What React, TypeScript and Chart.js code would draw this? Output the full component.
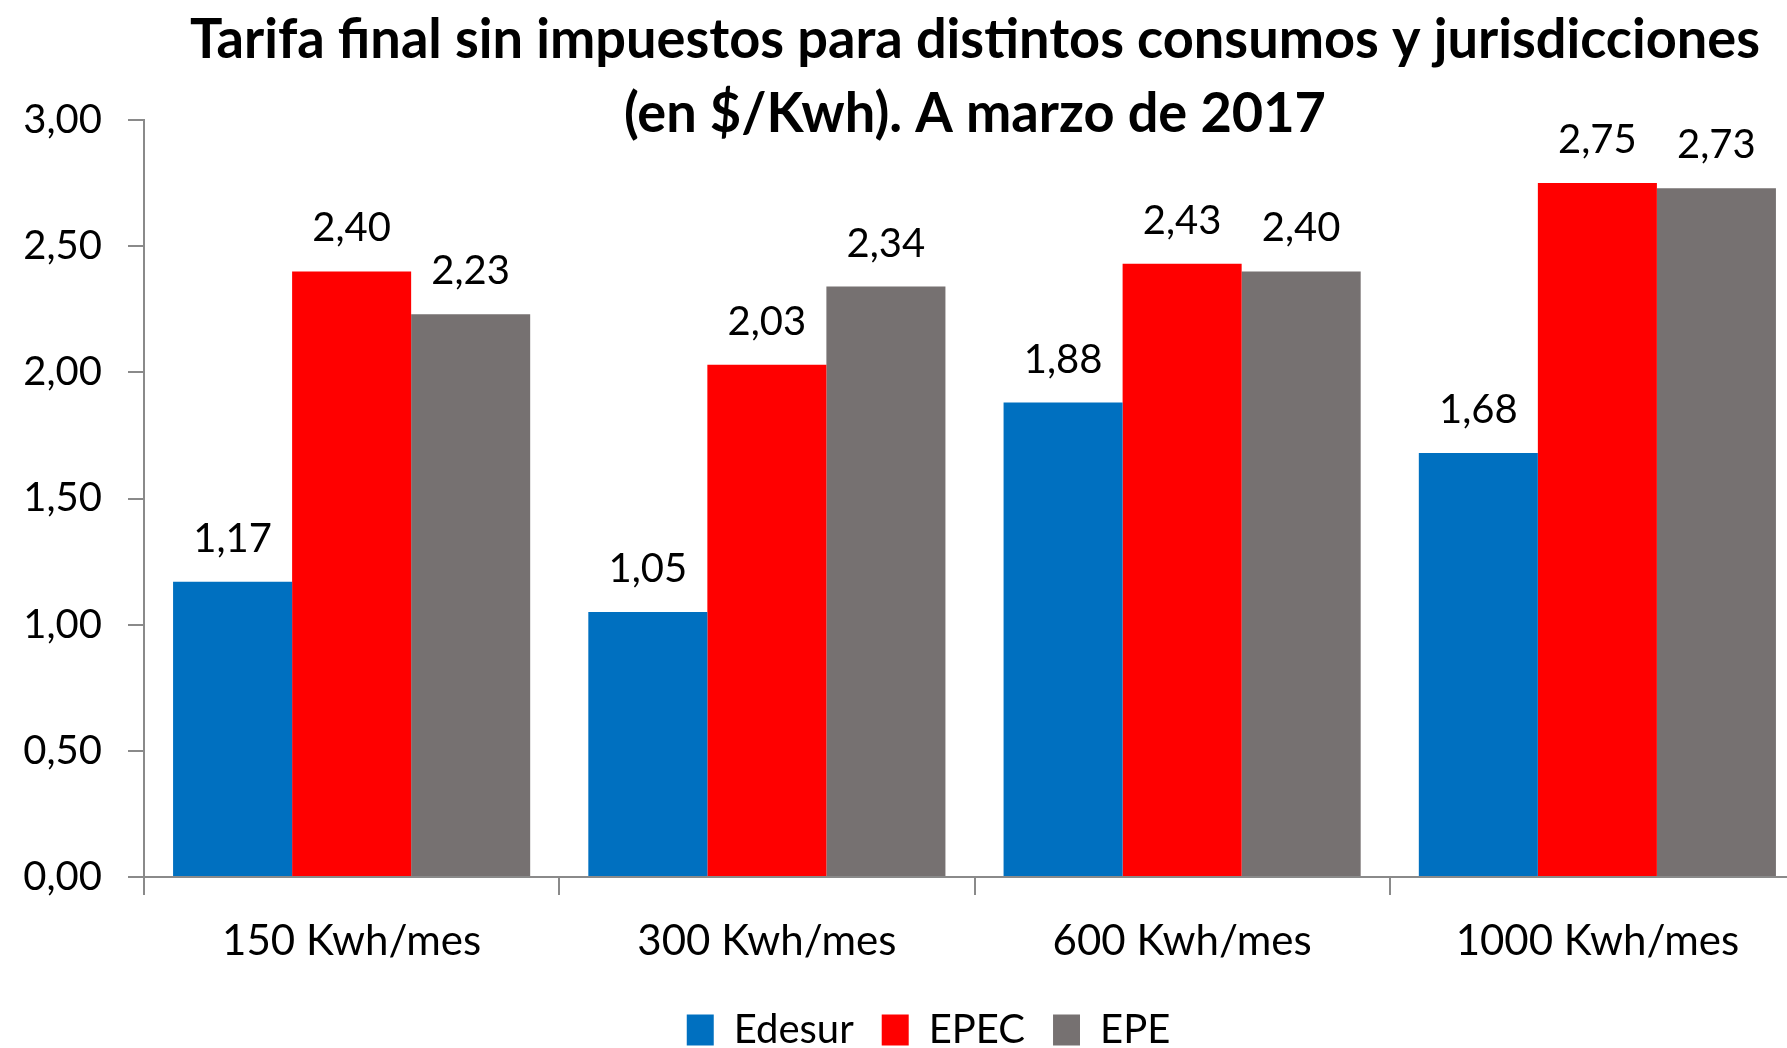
import React, { useEffect, useRef } from "react";
import { Chart, registerables } from "chart.js";

Chart.register(...registerables);

const categories = ["150 Kwh/mes", "300 Kwh/mes", "600 Kwh/mes", "1000 Kwh/mes"];
const seriesNames = ["Edesur", "EPEC", "EPE"];
const edesurValues = [1.17, 1.05, 1.88, 1.68];
const epecValues = [2.4, 2.03, 2.43, 2.75];
const epeValues = [2.23, 2.34, 2.4, 2.73];
const seriesColors = ["#0070C0", "#FF0000", "#767171"];
const titleLines = [
  "Tarifa final sin impuestos para distintos consumos y jurisdicciones",
  "(en $/Kwh). A marzo de 2017",
];
const yMin = 0;
const yMax = 3;
const yStep = 0.5;

const fmt = (v: number) => v.toFixed(2).replace(".", ",");

const FONT = "Lato, 'Open Sans', sans-serif";
const AXIS_COLOR = "#8a8a8a";

const titlePlugin = {
  id: "customTitle",
  afterDraw(chart: any) {
    const ctx = chart.ctx;
    ctx.save();
    ctx.font = `bold 55px ${FONT}`;
    const w = ctx.measureText(titleLines[0]).width;
    const s = Math.min(1, 1570 / w);
    ctx.fillStyle = "#000";
    ctx.textAlign = "center";
    ctx.textBaseline = "alphabetic";
    ctx.translate(975, 0);
    ctx.scale(s, 1);
    ctx.fillText(titleLines[0], 0, 58);
    ctx.fillText(titleLines[1], 0, 132);
    ctx.restore();
  },
};

const legendShiftPlugin = {
  id: "legendShift",
  afterLayout(chart: any) {
    if (chart.legend) {
      chart.legend.left += 26;
      chart.legend.right += 26;
    }
  },
};

const valueLabelPlugin = {
  id: "valueLabels",
  afterDatasetsDraw(chart: any) {
    const ctx = chart.ctx;
    ctx.save();
    ctx.font = `40px ${FONT}`;
    ctx.fillStyle = "#000";
    ctx.textAlign = "center";
    ctx.textBaseline = "alphabetic";
    chart.data.datasets.forEach((ds: any, i: number) => {
      const meta = chart.getDatasetMeta(i);
      meta.data.forEach((bar: any, j: number) => {
        ctx.fillText(fmt(ds.data[j]), bar.x, bar.y - 30);
      });
    });
    ctx.restore();
  },
};

export default function App() {
  const ref = useRef<HTMLCanvasElement | null>(null);

  useEffect(() => {
    if (!ref.current) return;
    const chart = new Chart(ref.current, {
      type: "bar",
      data: {
        labels: categories,
        datasets: [edesurValues, epecValues, epeValues].map((vals, i) => ({
          label: seriesNames[i],
          data: vals,
          backgroundColor: seriesColors[i],
          borderWidth: 0,
          categoryPercentage: 0.86,
          barPercentage: 1.0,
        })),
      },
      options: {
        responsive: false,
        animation: false,
        layout: { padding: { top: 120, left: 0, right: 0, bottom: 0 } },
        plugins: {
          title: { display: false },
          tooltip: { enabled: false },
          legend: {
            display: true,
            position: "bottom",
            labels: {
              boxWidth: 27,
              boxHeight: 31,
              padding: 28,
              color: "#000",
              font: { family: FONT, size: 40 },
            },
          },
        },
        scales: {
          x: {
            grid: {
              display: true,
              offset: true,
              drawOnChartArea: false,
              drawTicks: true,
              tickLength: 18,
              color: AXIS_COLOR,
              lineWidth: 2,
            },
            border: { display: true, color: AXIS_COLOR, width: 2 },
            ticks: {
              color: "#000",
              padding: 21,
              font: { family: FONT, size: 42 },
              maxRotation: 0,
            },
            afterFit(scale: any) {
              scale.height = 105;
            },
          },
          y: {
            min: yMin,
            max: yMax,
            grid: {
              display: true,
              drawOnChartArea: false,
              drawTicks: true,
              tickLength: 16,
              color: AXIS_COLOR,
              lineWidth: 2,
            },
            border: { display: true, color: AXIS_COLOR, width: 2 },
            ticks: {
              stepSize: yStep,
              color: "#000",
              padding: 26,
              font: { family: FONT, size: 40 },
              callback: (v: any) => fmt(Number(v)),
            },
            afterFit(scale: any) {
              scale.width = 144;
            },
          },
        },
      },
      plugins: [titlePlugin, valueLabelPlugin, legendShiftPlugin],
    });
    return () => chart.destroy();
  }, []);

  return (
    <div
      style={{
        position: "fixed",
        left: 0,
        top: 0,
        width: 1787,
        height: 1048,
        overflow: "hidden",
        background: "#fff",
      }}
    >
      <canvas ref={ref} width={1805} height={1060} style={{ width: 1805, height: 1060, display: "block" }} />
    </div>
  );
}
